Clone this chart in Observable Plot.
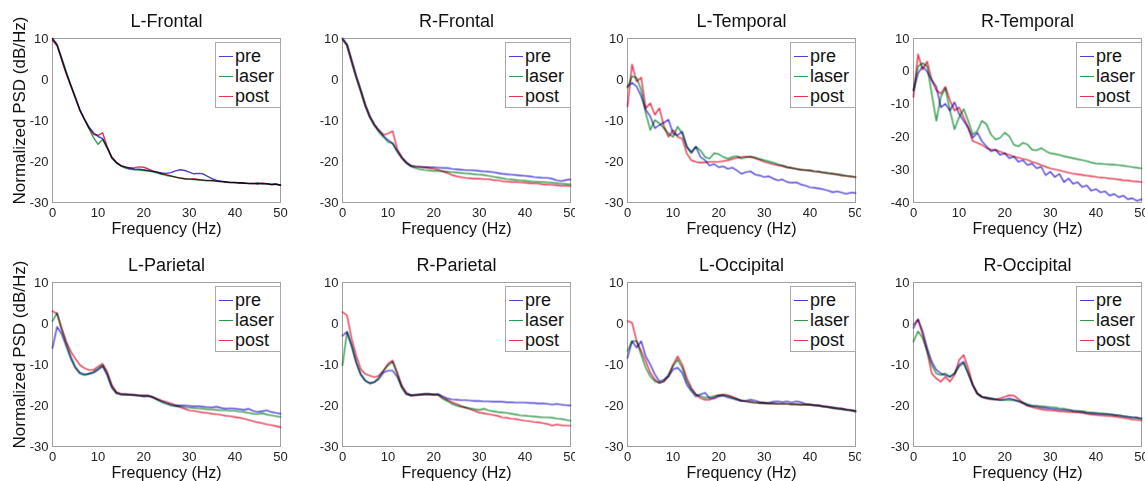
<!DOCTYPE html>
<html><head><meta charset="utf-8">
<script src="https://cdn.jsdelivr.net/npm/d3@7"></script>
<script src="https://cdn.jsdelivr.net/npm/@observablehq/plot@0.6"></script>
<style>
html,body{margin:0;padding:0;background:#fff;overflow:hidden}
#chart{position:relative;width:1145px;height:481px;font-family:"Liberation Sans",Arial,sans-serif;overflow:hidden;background:#fff}
.panel{position:absolute}
.legend{position:absolute;background:#fff;border:1px solid #aaa;box-sizing:border-box;width:66px;height:66px;padding-top:3px;font-size:18px;color:#111;line-height:1}
.legend .row{height:20px;display:flex;align-items:center}
.legend .sw{display:inline-block;width:14px;height:0;border-top:1.5px solid;margin:0 2px 0 3px}
</style></head><body><div id="chart"></div>
<script>
const freqs = d3.range(0, 51);
const xTicks = [0, 10, 20, 30, 40, 50];
const seriesNames = ["pre", "laser", "post"];
const seriesColors = ["#4b3fd8", "#2f9a4c", "#e5334d"];
const titles = ["L-Frontal", "R-Frontal", "L-Temporal", "R-Temporal", "L-Parietal", "R-Parietal", "L-Occipital", "R-Occipital"];
const yTicksStd = [-30, -20, -10, 0, 10];
const yTicksRT = [-40, -30, -20, -10, 0, 10];

const lFrontalPre = [10, 8.4, 5, 1.6, -1.4, -4.4, -7.3, -9.6, -11.6, -13,
  -13.9, -14.4, -16.6, -19, -20.2, -21, -21.4, -21.6, -21.8, -21.9,
  -22, -22.2, -22.4, -22.6, -22.8, -22.9, -22.7, -22.3, -22, -22.2,
  -22.6, -23, -22.9, -23, -23.6, -24.2, -24.6, -24.8, -25, -25.1,
  -25.2, -25.2, -25.3, -25.4, -25.4, -25.3, -25.4, -25.5, -25.6, -25.6,
  -25.7];
const lFrontalLaser = [10, 8.6, 5.4, 2, -1.2, -4.2, -7.4, -9.8, -12, -14.2,
  -15.8, -14.6, -16.8, -19.2, -20.4, -21.1, -21.6, -21.9, -22, -22.1,
  -22.2, -22.3, -22.5, -22.8, -23.1, -23.4, -23.6, -23.8, -24, -24.2,
  -24.3, -24.4, -24.5, -24.5, -24.6, -24.7, -24.8, -24.9, -25, -25.1,
  -25.1, -25.2, -25.3, -25.3, -25.4, -25.3, -25.5, -25.4, -25.6, -25.5,
  -25.8];
const lFrontalPost = [9.5, 8.2, 4.8, 1.4, -1.6, -4.6, -7.6, -9.7, -11.8, -13.4,
  -13.6, -13, -16.4, -18.9, -20.2, -21, -21.3, -21.6, -21.5, -21.3,
  -21.4, -21.8, -22.3, -22.6, -23, -23.2, -23.5, -23.8, -24.1, -24.2,
  -24.3, -24.2, -24.4, -24.6, -24.7, -24.6, -24.8, -24.9, -25, -25.2,
  -25.1, -25.3, -25.2, -25.4, -25.3, -25.5, -25.2, -25.4, -25.6, -25.5,
  -25.8];

const rFrontalPre = [10, 8.5, 4.6, 0.8, -2.6, -6.2, -9, -11, -12.5, -13.8,
  -14.8, -15.6, -17.4, -19, -20.2, -21, -21.2, -21.3, -21.4, -21.4,
  -21.4, -21.5, -21.6, -21.6, -21.8, -21.9, -22, -22.1, -22.1, -22.2,
  -22.3, -22.4, -22.5, -22.6, -22.8, -23, -23.1, -23.2, -23.3, -23.4,
  -23.5, -23.6, -23.8, -23.9, -24, -24, -24.2, -24.6, -24.8, -24.5,
  -24.4];
const rFrontalLaser = [10, 8.3, 4.4, 0.6, -2.8, -6.4, -9.2, -11.2, -12.8, -14,
  -15.2, -15.6, -17.6, -19.2, -20.4, -21.2, -21.6, -21.9, -22.1, -22.2,
  -22.3, -22.3, -22.4, -22.5, -22.6, -22.7, -22.8, -22.9, -23, -23.1,
  -23.2, -23.3, -23.5, -23.7, -23.9, -24.1, -24.3, -24.4, -24.5, -24.6,
  -24.7, -24.8, -24.9, -25, -25, -25.1, -25.2, -25.3, -25.4, -25.5,
  -25.6];
const rFrontalPost = [9.6, 8.4, 4.5, 0.7, -2.7, -6.3, -9.1, -11.1, -12.4, -13.5,
  -13.2, -12.6, -17, -19, -20.3, -21.1, -21.3, -21.3, -21.4, -21.6,
  -21.8, -22, -22.4, -22.8, -23.3, -23.6, -23.8, -24, -24.1, -24.2,
  -24.2, -24.3, -24.3, -24.5, -24.6, -24.8, -24.9, -25, -25, -25.1,
  -25.2, -25.3, -25.3, -25.4, -25.6, -25.6, -25.7, -25.8, -25.9, -25.9,
  -26];

const lTemporalPre = [-1.7, -0.8, -1.7, -4.1, -7.4, -9, -11.9, -11.1, -10.5, -9.8,
  -13.2, -13.6, -12.7, -16.4, -17.7, -16.4, -18.9, -19.7, -21, -20.6,
  -21.4, -21.2, -21.8, -21.5, -22.2, -23, -22.6, -22.4, -23.2, -23.4,
  -23.8, -23.6, -24.2, -24.6, -24.4, -25, -25.2, -25.1, -25.6, -25.9,
  -26.3, -26.4, -26.6, -26.8, -27.1, -27.5, -27.3, -27.6, -27.9, -27.6,
  -27.7];
const lTemporalLaser = [-2, 0.8, 0.4, -2.5, -8.2, -12.3, -9.9, -10.7, -11.9, -13.2,
  -14, -11.5, -13.2, -16.4, -18, -16.4, -17.3, -18.9, -19.3, -18,
  -18.2, -18.9, -19.3, -18.9, -18.7, -19.3, -19, -18.8, -19, -19.4,
  -19.7, -20, -20.3, -20.7, -21, -21.4, -21.6, -21.8, -22, -22.1,
  -22.2, -22.4, -22.5, -22.7, -22.8, -23, -23.1, -23.3, -23.5, -23.6,
  -23.8];
const lTemporalPost = [-6.6, 3.7, -0.5, 0.5, -7, -5.8, -8.6, -7, -11.5, -14,
  -12.3, -14, -14.4, -18, -19.7, -20.1, -20.3, -20.2, -20.1, -20.1,
  -20.1, -19.9, -19.7, -19.4, -19.1, -18.9, -18.8, -18.9, -19.2, -19.6,
  -20.1, -20.4, -20.7, -20.9, -21.1, -21.4, -21.6, -21.8, -22, -22.1,
  -22.2, -22.4, -22.5, -22.7, -22.9, -23, -23.2, -23.4, -23.5, -23.7,
  -23.8];

const rTemporalPre = [-5.8, -0.6, 1.5, -0.1, -2.7, -4.7, -11, -9.9, -12, -9.4,
  -13, -15.1, -17.2, -20.3, -18.7, -21.3, -22.9, -24.4, -23.9, -25.5,
  -25, -26.5, -26, -27.6, -27.1, -28.6, -28.1, -29.6, -29.1, -31.7,
  -30.6, -32.2, -31.3, -33.8, -32.7, -34.3, -33.8, -35.3, -34.8, -36.4,
  -35.9, -36.9, -36.6, -37.9, -37.4, -38.4, -37.9, -39, -38.7, -39.5,
  -39];
const rTemporalLaser = [-5.8, 1.5, 2.5, 1.5, -6.8, -15.1, -7.8, -5.2, -12, -17.7,
  -14, -11.5, -15.1, -19.3, -18.2, -15.1, -16.1, -19.3, -20.8, -20.3,
  -18.7, -19.8, -22.4, -22.9, -21.8, -22.3, -23.9, -24.1, -23.4, -24.3,
  -25, -25.2, -25.5, -25.9, -26.2, -26.5, -26.8, -27.1, -27.4, -27.8,
  -28.1, -28.2, -28.3, -28.4, -28.5, -28.6, -28.8, -29, -29.2, -29.4,
  -29.6];
const rTemporalPost = [-7.8, 5.2, 0.5, 3, -2.7, -5.8, -6.8, -4.7, -8.9, -12,
  -11, -14, -17.2, -21.3, -21.8, -22.4, -23.4, -23.9, -24, -24.5,
  -25, -25.5, -26, -26.3, -26.7, -27, -27.6, -28, -28.6, -29.1,
  -29.6, -29.9, -30.2, -30.6, -30.9, -31.2, -31.4, -31.6, -31.8, -32,
  -32.2, -32.4, -32.5, -32.7, -32.8, -33, -33.2, -33.3, -33.5, -33.6,
  -33.8];

const lParietalPre = [-6, -0.8, -2.5, -5.5, -8.5, -10.8, -12, -12.4, -12.3, -12,
  -11.3, -10.4, -12.6, -15.6, -17, -17.3, -17.4, -17.4, -17.5, -17.6,
  -17.8, -17.7, -18, -18.5, -19, -19.4, -19.8, -20, -20, -20,
  -20.1, -20.2, -20.2, -20.3, -20.4, -20.5, -20.3, -20.6, -20.8, -20.7,
  -20.8, -20.9, -21.1, -20.8, -21.3, -21.6, -21.4, -21.2, -21.6, -21.8,
  -22];
const lParietalLaser = [0.6, 2.6, -1.5, -4.8, -8, -10.6, -12.2, -12.6, -12.2, -11.8,
  -11, -10.2, -12.2, -15.4, -16.9, -17.3, -17.3, -17.4, -17.4, -17.6,
  -17.7, -17.6, -18, -18.6, -19.2, -19.6, -20, -20.2, -20.2, -20.4,
  -20.5, -20.6, -20.7, -20.8, -20.9, -21, -21.1, -21.2, -21.2, -21.3,
  -21.3, -21.5, -21.6, -21.8, -22, -22.1, -21.9, -22.2, -22.4, -22.6,
  -22.8];
const lParietalPost = [3, 2.4, -1.1, -4.4, -6.8, -8.5, -10.1, -10.9, -11.3, -11.3,
  -10.5, -9.8, -11.8, -15, -16.7, -17.1, -17.2, -17.3, -17.4, -17.5,
  -17.5, -17.6, -17.9, -18.4, -18.8, -19.1, -19.5, -19.9, -20.4, -20.8,
  -21.2, -21.3, -21.5, -21.7, -21.8, -22, -22.1, -22.3, -22.5, -22.6,
  -22.8, -23, -23.2, -23.5, -23.8, -24.1, -24.3, -24.6, -24.8, -25,
  -25.3];

const rParietalPre = [-3, -2, -5.5, -9.5, -12.5, -14, -14.5, -14.3, -13.5, -12,
  -11.5, -11.5, -13, -15.5, -17.2, -17.5, -17.4, -17.3, -17.2, -17.2,
  -17.3, -17.2, -17.8, -18.3, -18.5, -18.6, -18.7, -18.7, -18.8, -18.9,
  -18.9, -19, -19, -19.1, -19.1, -19.1, -19.2, -19.2, -19.3, -19.3,
  -19.3, -19.4, -19.4, -19.5, -19.5, -19.6, -19.8, -19.6, -19.8, -19.9,
  -20];
const rParietalLaser = [-10.2, -2.1, -5.3, -9.4, -12.3, -13.9, -14.7, -14.3, -13.1, -11.5,
  -10.2, -9.4, -12.3, -15.6, -17.2, -17.5, -17.4, -17.3, -17.2, -17.2,
  -17.3, -17.4, -18.4, -18.9, -19.6, -20, -20.3, -20.5, -20.7, -20.9,
  -21.1, -20.8, -21.2, -21.4, -21.6, -21.7, -21.8, -22, -22.2, -22.4,
  -22.5, -22.6, -22.7, -22.8, -22.9, -22.9, -23, -23.2, -23.3, -23.5,
  -23.7];
const rParietalPost = [2.8, 2, -3.7, -7.8, -11.1, -12.3, -12.7, -13.1, -12.7, -11.5,
  -9.8, -9, -11.9, -15.1, -16.8, -17.6, -17.5, -17.4, -17.3, -17.3,
  -17.4, -17.4, -18, -18.6, -19.2, -19.6, -20.1, -20.5, -20.9, -21.3,
  -21.7, -21.9, -22.1, -22.3, -22.5, -22.9, -23, -23.2, -23.3, -23.5,
  -23.7, -23.8, -24, -24.1, -24.3, -24.5, -24.9, -24.6, -24.8, -24.9,
  -24.9];

const lOccipitalPre = [-8.4, -4.3, -5.9, -4.3, -8, -10, -12.4, -14.1, -13.7, -12.9,
  -11.2, -10.8, -12, -14.9, -16.5, -17.8, -17.3, -16.9, -18.2, -18.3,
  -17.8, -17.6, -18, -18.3, -18.6, -18.9, -18.8, -18.6, -18.8, -19.2,
  -19.4, -19.3, -19.1, -19, -19.2, -19, -19.3, -19, -19.2, -19.6,
  -19.8, -19.9, -20, -20.2, -20.3, -20.5, -20.7, -20.8, -21, -21.2,
  -21.4];
const lOccipitalLaser = [-6.7, -4.3, -4.3, -7.6, -10.8, -12.9, -14.1, -14.5, -14.1, -12.4,
  -10.4, -8.8, -10.8, -14.1, -16.1, -17.3, -17.7, -18.1, -18, -17.7,
  -17.5, -17.5, -17.7, -18, -18.4, -18.8, -19, -19.2, -19.3, -19.4,
  -19.4, -19.5, -19.5, -19.6, -19.6, -19.6, -19.7, -19.7, -19.8, -19.8,
  -19.8, -20, -20.1, -20.3, -20.4, -20.6, -20.8, -20.9, -21.1, -21.2,
  -21.4];
const lOccipitalPost = [0.6, 0.2, -4.3, -6.7, -9.2, -12, -13.7, -14.5, -14.1, -12.9,
  -10, -8, -10, -13.3, -15.7, -17.3, -18.2, -18.6, -18.6, -18,
  -17.5, -17.3, -17.5, -17.9, -18.4, -18.8, -19, -19.1, -19.3, -19.4,
  -19.4, -19.5, -19.5, -19.6, -19.6, -19.6, -19.7, -19.7, -19.8, -19.8,
  -19.8, -19.9, -20, -20.2, -20.4, -20.6, -20.6, -20.8, -21, -21.1,
  -21.4];

const rOccipitalPre = [-1.1, 1, -1.9, -6, -9.3, -11.3, -12.2, -12.6, -13, -12.2,
  -10.1, -9.3, -12.2, -15, -17.1, -17.9, -18.1, -18.3, -18.5, -18.7,
  -18.5, -18.3, -18.6, -19, -19.5, -20, -20.2, -20.3, -20.5, -20.6,
  -20.8, -20.9, -21, -21.1, -21.2, -21.4, -21.5, -21.6, -21.8, -21.9,
  -22, -22.1, -22.1, -22.2, -22.3, -22.4, -22.6, -22.8, -22.9, -23,
  -23.2];
const rOccipitalLaser = [-4.4, -1.9, -3.5, -6.8, -10.1, -12.2, -12.6, -12.2, -13, -12.2,
  -10.5, -9.7, -12.2, -15, -17.1, -17.9, -18.1, -18.3, -18.5, -18.7,
  -18.7, -18.7, -18.7, -18.9, -19.3, -19.7, -20, -20.1, -20.2, -20.3,
  -20.4, -20.5, -20.7, -20.8, -21, -21.2, -21.3, -21.4, -21.6, -21.7,
  -21.8, -21.9, -22, -22.1, -22.3, -22.4, -22.6, -22.7, -22.9, -23,
  -23.2];
const rOccipitalPost = [-0.3, 1, -2.7, -6.8, -12.2, -13.4, -14.2, -13, -14.2, -12.6,
  -8.9, -7.7, -10.9, -15, -17.1, -17.9, -18.3, -18.5, -18.5, -18.3,
  -17.9, -17.5, -17.6, -18.4, -19.3, -20, -20.4, -20.7, -20.9, -21.1,
  -21.2, -21.3, -21.4, -21.5, -21.6, -21.6, -21.7, -21.8, -22, -22.2,
  -22.3, -22.4, -22.5, -22.6, -22.7, -22.8, -23, -23.2, -23.4, -23.5,
  -23.7];

const panelSeries = [
  [lFrontalPre, lFrontalLaser, lFrontalPost],
  [rFrontalPre, rFrontalLaser, rFrontalPost],
  [lTemporalPre, lTemporalLaser, lTemporalPost],
  [rTemporalPre, rTemporalLaser, rTemporalPost],
  [lParietalPre, lParietalLaser, lParietalPost],
  [rParietalPre, rParietalLaser, rParietalPost],
  [lOccipitalPre, lOccipitalLaser, lOccipitalPost],
  [rOccipitalPre, rOccipitalLaser, rOccipitalPost]
];

// layout
const frameLefts = [52, 342, 627, 913];
const frameTops = [38, 282];
const frameW = 228, frameH = 164;
const mL = 52, mR = 8, mT = 38, mB = 40;

const chart = document.getElementById("chart");
titles.forEach((title, i) => {
  const col = i % 4, row = Math.floor(i / 4);
  const isRT = title === "R-Temporal";
  const rows = seriesNames.flatMap((s, k) => freqs.map((f, j) => ({freq: f, value: panelSeries[i][k][j], series: s})));
  const marks = [
    Plot.axisX({ticks: xTicks, tickSize: 0, tickPadding: 5, tickFormat: d => String(d), label: null, fill: "#222"}),
    Plot.axisY({ticks: isRT ? yTicksRT : yTicksStd, tickSize: 0, tickPadding: 4, tickFormat: d => String(d), label: null, fill: "#222"}),
    Plot.frame({stroke: "#a0a0a0"}),
    Plot.line(rows, {x: "freq", y: "value", z: "series", stroke: "series", strokeWidth: 1.4, mixBlendMode: "multiply"}),
    Plot.text([title], {text: d => d, frameAnchor: "top", lineAnchor: "middle", dy: -17, fontSize: 18, fill: "#111"}),
    Plot.text(["Frequency (Hz)"], {text: d => d, frameAnchor: "bottom", lineAnchor: "middle", dy: 26, fontSize: 16, fill: "#111"})
  ];
  if (col === 0) marks.push(Plot.text(["Normalized PSD (dB/Hz)"], {text: d => d, frameAnchor: "left", textAnchor: "middle", dx: -33, dy: -10, rotate: -90, fontSize: 17, fill: "#111"}));
  const svg = Plot.plot({
    width: mL + frameW + mR, height: mT + frameH + mB,
    marginLeft: mL, marginRight: mR, marginTop: mT, marginBottom: mB,
    style: {fontFamily: "Liberation Sans, Arial, sans-serif", fontSize: "13px", background: "#fff", overflow: "hidden"},
    x: {domain: [0, 50]},
    y: {domain: isRT ? [-40, 10] : [-30, 10]},
    color: {domain: seriesNames, range: seriesColors},
    marks
  });
  svg.classList.add("panel");
  svg.style.left = (frameLefts[col] - mL) + "px";
  svg.style.top = (frameTops[row] - mT) + "px";
  chart.appendChild(svg);

  const lg = document.createElement("div");
  lg.className = "legend";
  lg.style.left = (frameLefts[col] + frameW - 65) + "px";
  lg.style.top = (frameTops[row] + 4) + "px";
  seriesNames.forEach((s, k) => {
    const r = document.createElement("div");
    r.className = "row";
    const sw = document.createElement("span");
    sw.className = "sw";
    sw.style.borderTopColor = seriesColors[k];
    r.appendChild(sw);
    r.appendChild(document.createTextNode(s));
    lg.appendChild(r);
  });
  chart.appendChild(lg);
});
</script></body></html>
